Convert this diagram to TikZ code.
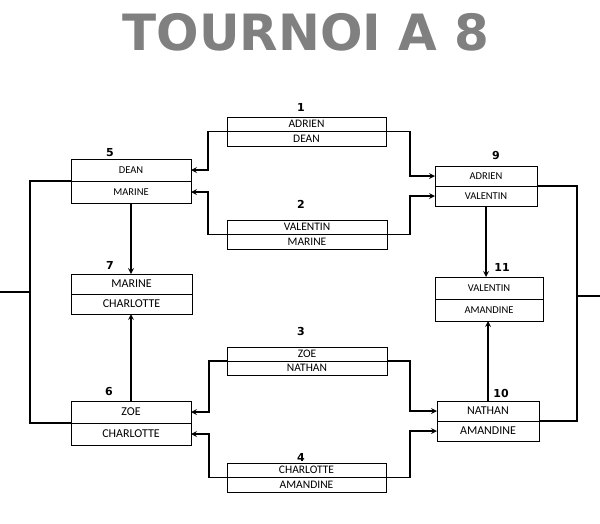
\documentclass[tikz,border=0pt]{standalone}
\usepackage{fontspec}
\setmainfont{Carlito}
\newfontfamily\numfont{DejaVu Sans}
\usetikzlibrary{positioning}

\begin{document}
\begin{tikzpicture}[x=1pt,y=-1pt,>=stealth,line width=1.6pt,
    half/.style={draw,line width=0.8pt,anchor=north west,inner sep=0pt,outer sep=0pt}]

\useasboundingbox (0,0) rectangle (600,523);

\node[text=gray,font=\numfont\bfseries\fontsize{50}{50}\selectfont] (title) at (306,32) {TOURNOI A 8};

% id/x/y/width/half height/font size/top/bottom
\foreach \id/\x/\y/\w/\h/\s/\a/\b in {
    1/227/117/159/14.5/11.5/ADRIEN/DEAN,
    2/227/220/160/14.5/11.5/VALENTIN/MARINE,
    3/227/347/160/14/11.5/ZOE/NATHAN,
    4/227/463/159/14.5/11.5/CHARLOTTE/AMANDINE,
    5/71/159/120/22/10.5/DEAN/MARINE,
    6/71/401/120/22/12/ZOE/CHARLOTTE,
    7/71/274/121/20/12/MARINE/CHARLOTTE,
    9/435/166/102/20/10.5/ADRIEN/VALENTIN,
    10/437/401/102/20/12/NATHAN/AMANDINE,
    11/435/277/108/22/10.5/VALENTIN/AMANDINE}{
    \node[half,minimum width=\w,minimum height=\h,font=\fontsize{\s}{\s}\selectfont] (m-\id-a) at (\x,\y) {\a};
    \node[half,minimum width=\w,minimum height=\h,font=\fontsize{\s}{\s}\selectfont,below=0pt of m-\id-a] (m-\id-b) {\b};
}

\foreach \n/\x/\y in {1/301/107,2/301/204,3/301/331,4/301/457,5/110/153,
                      6/109/391,7/110/265,9/496/155,10/501/393,11/502/267}
    \node[font=\numfont\bfseries\fontsize{11}{11}\selectfont] (n-\n) at (\x,\y) {\n};

% first round to second round
\draw[->] (m-1-b.north west) -- ++(-19,0) |- (m-5-a.east);
\draw[->] (m-2-b.north west) -- ++(-19,0) |- (m-5-b.east);
\draw[->] (m-3-b.north west) -- ++(-18,0) |- (m-6-a.east);
\draw[->] (m-4-b.north west) -- ++(-18,0) |- (m-6-b.east);
\draw[->] (m-1-b.north east) -- ++(24,0) |- (m-9-a.west);
\draw[->] (m-2-b.north east) -- ++(23,0) |- (m-9-b.west);
\draw[->] (m-3-b.north east) -- ++(23,0) |- (m-10-a.west);
\draw[->] (m-4-b.north east) -- ++(24,0) |- (m-10-b.west);

% losers
\draw[->] (m-5-b.south) -- (m-5-b.south |- m-7-a.north);
\draw[->] (m-6-a.north) -- (m-6-a.north |- m-7-b.south);
\draw[->] (m-9-b.south) -- (m-9-b.south |- m-11-a.north);
\draw[->] (m-10-a.north) -- (m-10-a.north |- m-11-b.south);

% winners
\draw (m-5-b.north west) -- ++(-41,0) |- (m-6-b.north west);
\draw (m-9-b.north east) -- ++(40,0) |- (m-10-b.north east);
\coordinate (left) at (0,292);
\draw (left) -- ++(30,0);
\coordinate (right) at (600,296);
\draw (right) -- ++(-23,0);

\end{tikzpicture}
\end{document}
